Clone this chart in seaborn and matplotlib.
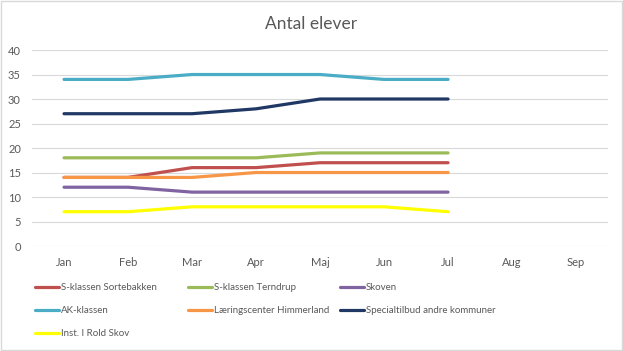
import pandas as pd
import matplotlib.pyplot as plt
import seaborn as sns
from matplotlib.patches import Rectangle

months = ["Jan", "Feb", "Mar", "Apr", "Maj", "Jun", "Jul", "Aug", "Sep"]

sortebakken = [14, 14, 16, 16, 17, 17, 17]
terndrup = [18, 18, 18, 18, 19, 19, 19]
skoven = [12, 12, 11, 11, 11, 11, 11]
ak_klassen = [34, 34, 35, 35, 35, 34, 34]
himmerland = [14, 14, 14, 15, 15, 15, 15]
specialtilbud = [27, 27, 27, 28, 30, 30, 30]
rold_skov = [7, 7, 8, 8, 8, 8, 7]

series = {
    "S-klassen Sortebakken": sortebakken,
    "S-klassen Terndrup": terndrup,
    "Skoven": skoven,
    "AK-klassen": ak_klassen,
    "Læringscenter Himmerland": himmerland,
    "Specialtilbud andre kommuner": specialtilbud,
    "Inst. I Rold Skov": rold_skov,
}

colors = ["#C0504D", "#9BBB59", "#8064A2", "#4BACC6", "#F79646", "#1F3864", "#FFFF00"]

rows = []
for name, vals in series.items():
    for i, v in enumerate(vals):
        rows.append({"name": name, "month": i, "value": v})
df = pd.DataFrame(rows)

sns.set_style("white")
plt.rcParams["font.family"] = ["Lato", "DejaVu Sans"]

fig = plt.figure(figsize=(6.23, 3.51), dpi=100)
ax = fig.add_axes([0.0514, 0.2991, 0.9246, 0.5584])

sns.lineplot(data=df, x="month", y="value", hue="name", palette=colors,
             linewidth=2.3, ax=ax, legend=True)

ax.set_xlim(-0.5, len(months) - 0.5)
ax.set_ylim(0, 40)
ax.set_xticks(range(len(months)))
ax.set_xticklabels(months)
ax.set_yticks(range(0, 45, 5))
ax.tick_params(axis="both", length=0, labelsize=8, labelcolor="#595959")
ax.tick_params(axis="x", pad=8)
ax.tick_params(axis="y", pad=8)
ax.yaxis.grid(True, color="#D9D9D9", linewidth=0.8)
ax.set_axisbelow(True)
for s in ax.spines.values():
    s.set_visible(False)
ax.set_xlabel("")
ax.set_ylabel("")

handles, labels = ax.get_legend_handles_labels()
ax.get_legend().remove()

# three legend columns, filled row by row like the original
columns = [[0, 3, 6], [1, 4], [2, 5]]
col_x = [0.056, 0.302, 0.546]
for idx, x0 in zip(columns, col_x):
    fig.legend([handles[i] for i in idx], [labels[i] for i in idx],
               loc="upper left", bbox_to_anchor=(x0, 0.193),
               frameon=False, fontsize=7, labelcolor="#595959",
               handlelength=2.5, handletextpad=0.15,
               labelspacing=1.45, borderpad=0, borderaxespad=0)

fig.suptitle("Antal elever", y=0.955, fontsize=12.5, color="#595959")

fig.patches.append(Rectangle((0.001, 0.002), 0.997, 0.995, transform=fig.transFigure,
                             fill=False, edgecolor="#D9D9D9", linewidth=1))

fig.savefig("out.png", dpi=100)
